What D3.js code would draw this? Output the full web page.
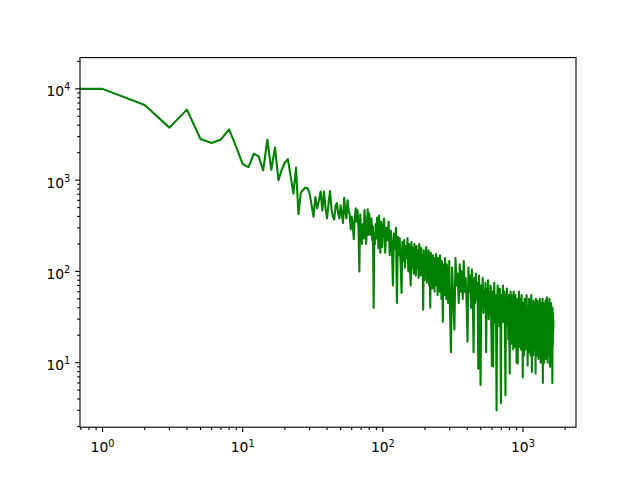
<!DOCTYPE html>
<html><head><meta charset="utf-8">
<script src="https://cdn.jsdelivr.net/npm/d3@7"></script>
<style>body{margin:0;background:#fff}</style></head>
<body>
<svg id="c" width="640" height="480"></svg>
<script>
// Power spectrum (index 0 is the DC term, clipped on the log axis)
const lowFreqY = [14400, 10000, 6670, 3760, 5920, 2820, 2550, 2790, 3600, 2300,
  1500, 1390, 1945, 1820, 1276, 2770, 1297, 2280, 1000, 1300,
  1560, 1700, 1100, 710, 1370, 424, 730, 780, 830, 815,
  720, 535, 398, 650, 490, 600, 750, 463, 750, 490, 382];            // x = 0..40
const midFreqY = [560, 760, 480, 400, 370, 520, 560, 430, 380, 530,
  420, 340, 640, 450, 380, 600, 470, 420, 290, 400,
  330, 225, 380, 490, 350, 470, 300, 100, 420, 250,
  200, 330, 230, 470, 350, 200, 300, 480, 250, 430,
  270, 250, 380, 220, 310, 40, 260, 200, 330, 230,
  390, 300, 180, 410, 250, 160, 350, 230, 185, 300];                 // x = 41..100
const highFreqY = [380, 160, 300, 220, 350, 150, 280, 200, 70, 260,
  180, 300, 45, 240, 150, 230, 120, 58, 210, 130,
  220, 110, 190, 140, 230, 100, 200, 120, 70, 210,
  110, 180, 95, 200, 130, 90, 190, 110, 170, 85,
  200, 120, 90, 180, 100, 150, 38, 170, 80, 140,
  95, 185, 75, 150, 100, 170, 70, 130, 40, 160,
  80, 120, 65, 150, 90, 140, 60, 120, 80, 155,
  70, 110, 55, 140, 85, 120, 60, 150, 75, 105,
  50, 130, 70, 28, 120, 65, 100, 55, 140, 75,
  95, 50, 120, 65, 110, 45, 100, 70, 130, 55];                        // x = 102..300 step 2
const tailY = [13, 110, 50, 23, 140, 70, 95, 45, 120, 60,
  100, 50, 130, 60, 85, 45, 17, 110, 60, 90,
  40, 105, 55, 13, 85, 45, 95, 50, 75, 8.6,
  90, 40, 5.7, 70, 45, 85, 35, 60, 40, 75,
  13, 65, 38, 80, 30, 55, 40, 70, 25, 9.2,
  60, 9.1, 45, 75, 28, 55, 35, 3.0, 42, 70,
  32, 50, 25, 65, 35, 3.6, 55, 28, 45, 70,
  28, 40, 60, 20, 4.4, 50, 35, 65, 26, 45,
  18, 55, 25, 7.6, 40, 60, 16, 35, 55, 20,
  45, 14, 60, 30, 40, 15, 55, 25, 35, 10,
  50, 20, 9.8, 45, 25, 60, 15, 40, 20, 50,
  14, 35, 55, 18, 30, 6.9, 45, 22, 35, 12,
  50, 20, 30, 14, 45, 25, 55, 16, 35, 9.3,
  40, 18, 28, 50, 13, 35, 22, 45, 12, 30,
  55, 17, 7.9, 40, 25, 35, 12, 48, 20, 30,
  14, 45, 22, 35, 7.6, 50, 18, 30, 12, 40,
  25, 48, 15, 30, 11, 42, 20, 35, 13, 50,
  22, 30, 10, 45, 18, 35, 12, 40, 25, 50,
  6, 30, 45, 16, 35, 10, 40, 22, 30, 12,
  48, 18, 35, 11, 40, 25, 52, 14, 30, 10,
  45, 20, 35, 12, 40, 16, 50, 22, 28, 9,
  42, 18, 35, 12, 45, 25, 30, 10, 38, 6,
  40, 15, 35, 22, 30];                                                // x = 306..1650 step 6
const xTickExps = [0, 1, 2, 3];
const yTickExps = [1, 2, 3, 4];

const data = [];
lowFreqY.forEach((v, i) => data.push({x: i, y: v}));
midFreqY.forEach((v, i) => data.push({x: 41 + i, y: v}));
highFreqY.forEach((v, i) => data.push({x: 102 + 2 * i, y: v}));
tailY.forEach((v, i) => data.push({x: 306 + 6 * i, y: v}));

const L = 80, R = 576, T = 57.6, B = 427.2;
const pt = 100 / 72;

function padLog(ext) {
  const a = Math.log10(ext[0]), b = Math.log10(ext[1]), p = (b - a) * 0.05;
  return [Math.pow(10, a - p), Math.pow(10, b + p)];
}
const xs = d3.scaleLog().domain(padLog(d3.extent(data.filter(d => d.x > 0), d => d.x))).range([L, R]);
const ys = d3.scaleLog().domain(padLog(d3.extent(data, d => d.y))).range([B, T]);

const svg = d3.select('#c');
svg.append('defs').append('clipPath').attr('id', 'pa')
  .append('rect').attr('x', L).attr('y', T).attr('width', R - L).attr('height', B - T);

const line = d3.line()
  .x(d => d.x > 0 ? xs(d.x) : L - 1e5)
  .y(d => ys(d.y));
svg.append('path').datum(data)
  .attr('clip-path', 'url(#pa)')
  .attr('d', line)
  .attr('fill', 'none').attr('stroke', '#008000')
  .attr('stroke-width', 1.5 * pt).attr('stroke-linejoin', 'round');

// frame
svg.append('rect').attr('x', L).attr('y', T).attr('width', R - L).attr('height', B - T)
  .attr('fill', 'none').attr('stroke', '#000').attr('stroke-width', 0.8 * pt);

const g = svg.append('g').attr('stroke', '#000').attr('stroke-width', 0.8 * pt);
function minors(dom) {
  const out = [];
  const lo = Math.floor(Math.log10(dom[0])), hi = Math.ceil(Math.log10(dom[1]));
  for (let e = lo; e <= hi; e++) for (let m = 2; m <= 9; m++) {
    const v = m * Math.pow(10, e);
    if (v >= dom[0] && v <= dom[1]) out.push(v);
  }
  return out;
}
minors(xs.domain()).forEach(v => {
  const px = xs(v);
  g.append('line').attr('x1', px).attr('x2', px).attr('y1', B).attr('y2', B + 2 * pt);
});
minors(ys.domain()).forEach(v => {
  const py = ys(v);
  g.append('line').attr('x1', L).attr('x2', L - 2 * pt).attr('y1', py).attr('y2', py);
});
const fs = 10 * pt;
xTickExps.forEach(e => {
  const px = xs(Math.pow(10, e));
  g.append('line').attr('x1', px).attr('x2', px).attr('y1', B).attr('y2', B + 3.5 * pt);
  const t = svg.append('text').attr('x', px).attr('y', 452.3).attr('text-anchor', 'middle')
    .attr('font-family', 'DejaVu Sans').attr('font-size', fs).attr('fill', '#000');
  t.append('tspan').text('10');
  t.append('tspan').attr('dy', -5.8).attr('font-size', fs * 0.7).text(e);
});
yTickExps.forEach(e => {
  const py = ys(Math.pow(10, e));
  g.append('line').attr('x1', L).attr('x2', L - 3.5 * pt).attr('y1', py).attr('y2', py);
  const t = svg.append('text').attr('x', L - 7 * pt).attr('y', py + 7.4).attr('text-anchor', 'end')
    .attr('font-family', 'DejaVu Sans').attr('font-size', fs).attr('fill', '#000');
  t.append('tspan').text('10');
  t.append('tspan').attr('dy', -5.8).attr('font-size', fs * 0.7).text(e);
});
</script>
</body></html>
